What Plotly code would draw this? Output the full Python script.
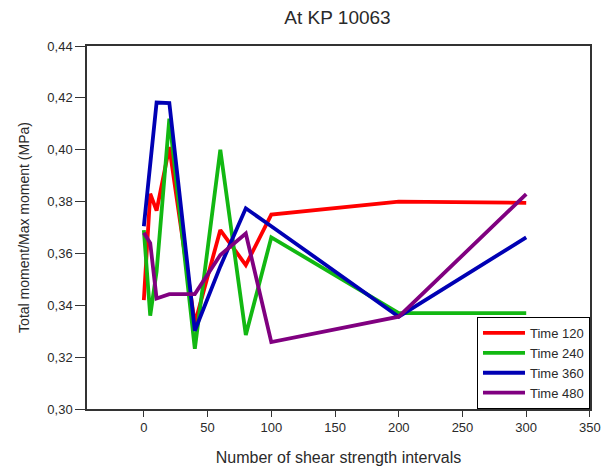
import plotly.graph_objects as go

# Number of shear strength intervals
intervals = [0, 5, 10, 20, 40, 60, 80, 100, 200, 300]

# Total moment / max moment (MPa) per time step
time_120 = [0.342, 0.383, 0.3765, 0.401, 0.333, 0.369, 0.3555, 0.375, 0.380, 0.3795]
time_240 = [0.369, 0.336, 0.353, 0.412, 0.3232, 0.400, 0.3285, 0.3662, 0.337, 0.337]
time_360 = [0.3705, 0.394, 0.4182, 0.4180, 0.3302, 0.355, 0.3774, 0.3705, 0.3356, 0.3662]
time_480 = [0.368, 0.364, 0.3426, 0.3443, 0.3443, 0.3594, 0.3677, 0.3258, 0.3356, 0.3829]

series = [
    ("Time 120", time_120, "#ff0000"),
    ("Time 240", time_240, "#12b812"),
    ("Time 360", time_360, "#0000b4"),
    ("Time 480", time_480, "#800080"),
]

fig = go.Figure()
for name, values, color in series:
    fig.add_trace(go.Scatter(
        x=intervals, y=values, name=name, mode="lines",
        line=dict(color=color, width=3.8),
    ))

font_family = "Arial, Liberation Sans, sans-serif"
text_color = "#2a2a2a"

fig.update_layout(
    width=603, height=472,
    margin=dict(l=87, r=13, t=46, b=63),
    paper_bgcolor="white", plot_bgcolor="white",
    separators=", ",
    font=dict(family=font_family, size=13, color=text_color),
    title=dict(text="At KP 10063", x=337.5 / 603, xanchor="center",
               y=1 - 17 / 472, yanchor="middle",
               font=dict(size=19, color=text_color)),
    showlegend=True,
    legend=dict(
        x=1, xanchor="right", y=0, yanchor="bottom",
        bordercolor="#000000", borderwidth=1, bgcolor="white",
        font=dict(size=13, color=text_color),
        tracegroupgap=0, itemwidth=42,
    ),
)

fig.update_xaxes(
    range=[-44.6, 350.05], automargin=False,
    tickmode="array", tickvals=[0, 50, 100, 150, 200, 250, 300, 350],
    ticks="outside", ticklen=6, tickcolor="#333333", tickwidth=1,
    showline=True, linecolor="#333333", linewidth=1.5, mirror=True,
    showgrid=False, zeroline=False,
    tickfont=dict(size=13, color=text_color),
    title=dict(text="Number of shear strength intervals", standoff=17,
               font=dict(size=16, color=text_color)),
)

fig.update_yaxes(
    range=[0.30, 0.44], automargin=False,
    tickmode="linear", tick0=0.30, dtick=0.02, tickformat=".2f",
    ticks="outside", ticklen=10, tickcolor="#333333", tickwidth=1,
    showline=True, linecolor="#333333", linewidth=1.5, mirror=True,
    showgrid=False, zeroline=False,
    tickfont=dict(size=13, color=text_color),
    title=dict(text="Total moment/Max moment (MPa)", standoff=14,
               font=dict(size=14, color=text_color)),
)

fig.write_html("out.html")
